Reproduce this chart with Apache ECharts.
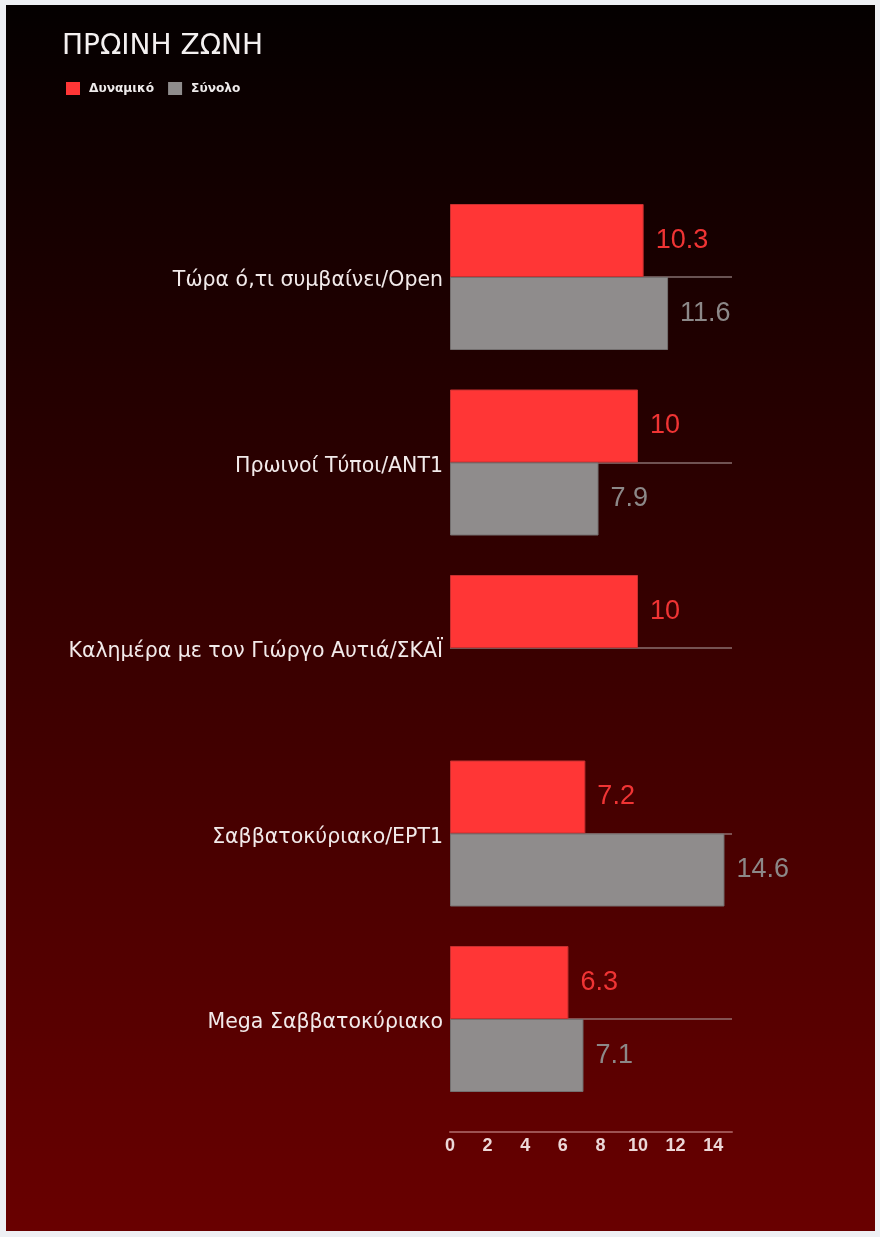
<!DOCTYPE html>
<html>
<head>
<meta charset="utf-8">
<title>ΠΡΩΙΝΗ ΖΩΝΗ</title>
<script src="https://cdn.jsdelivr.net/npm/echarts@6/dist/echarts.min.js"></script>
<style>
  html, body { margin: 0; padding: 0; background: #eef0f4; }
  #chart { position: absolute; left: 6px; top: 5px; width: 869px; height: 1226px; }
</style>
</head>
<body>
<div id="chart"></div>
<script>
// Chart data
const shows = [
  'Τώρα ό,τι συμβαίνει/Open',
  'Πρωινοί Τύποι/ΑΝΤ1',
  'Καλημέρα με τον Γιώργο Αυτιά/ΣΚΑΪ',
  'Σαββατοκύριακο/ΕΡΤ1',
  'Mega Σαββατοκύριακο'
];
const dynamiko = [10.3, 10, 10, 7.2, 6.3];
const synolo = [11.6, 7.9, null, 14.6, 7.1];
const xTicks = [0, 2, 4, 6, 8, 10, 12, 14];

const chart = echarts.init(document.getElementById('chart'));

const arial = 'Liberation Sans, Arial, sans-serif';
const wide = 'DejaVu Sans, sans-serif';

const option = {
  backgroundColor: {
    type: 'linear', x: 0, y: 0, x2: 0, y2: 1,
    colorStops: [
      { offset: 0, color: '#040000' },
      { offset: 1, color: '#690000' }
    ]
  },
  title: {
    text: 'ΠΡΩΙΝΗ ΖΩΝΗ',
    left: 56,
    top: 28,
    padding: 0,
    textStyle: { color: '#f4f0f0', fontSize: 28, fontWeight: 'normal', fontFamily: wide }
  },
  legend: {
    left: 60,
    top: 77,
    padding: 0,
    itemWidth: 14,
    itemHeight: 13,
    itemGap: 14,
    icon: 'rect',
    itemStyle: { borderWidth: 0 },
    textStyle: {
      color: '#eeeaea', fontSize: 12.2, fontWeight: 'bold', fontFamily: wide,
      padding: [0, 0, 0, 4]
    },
    data: ['Δυναμικό', 'Σύνολο']
  },
  grid: { left: 444, right: 143, top: 272, bottom: 212, containLabel: false },
  xAxis: {
    type: 'value',
    min: 0,
    max: 15,
    interval: 2,
    offset: 113,
    axisLine: { show: true, lineStyle: { color: 'rgba(210,150,150,0.55)', width: 2 } },
    axisTick: { show: false },
    splitLine: { show: false },
    axisLabel: {
      color: '#ecd8d8',
      fontSize: 18,
      fontWeight: 'bold',
      fontFamily: arial,
      margin: 5,
      formatter: v => (xTicks.indexOf(v) >= 0 ? String(v) : '')
    }
  },
  yAxis: {
    type: 'category',
    data: shows,
    inverse: true,
    boundaryGap: false,
    axisLine: { show: false },
    axisTick: { show: false },
    splitLine: { show: true, lineStyle: { color: 'rgba(170,150,150,0.55)', width: 2 } },
    axisLabel: {
      color: '#f2eaea',
      fontSize: 20.5,
      fontFamily: wide,
      margin: 7,
      verticalAlign: 'top',
      lineHeight: 8
    }
  },
  series: [
    {
      name: 'Δυναμικό',
      type: 'bar',
      data: dynamiko,
      barWidth: 73,
      barGap: '0%',
      itemStyle: { color: '#ff3636', borderColor: '#c83030', borderWidth: 1 },
      label: {
        show: true,
        position: 'right',
        distance: 12,
        color: '#f03434',
        fontSize: 27,
        fontFamily: arial
      }
    },
    {
      name: 'Σύνολο',
      type: 'bar',
      data: synolo,
      barWidth: 73,
      barGap: '0%',
      itemStyle: { color: '#8f8c8c', borderColor: '#747070', borderWidth: 1 },
      label: {
        show: true,
        position: 'right',
        distance: 12,
        color: '#8c8888',
        fontSize: 27,
        fontFamily: arial
      }
    }
  ]
};

chart.setOption(option);
</script>
</body>
</html>
